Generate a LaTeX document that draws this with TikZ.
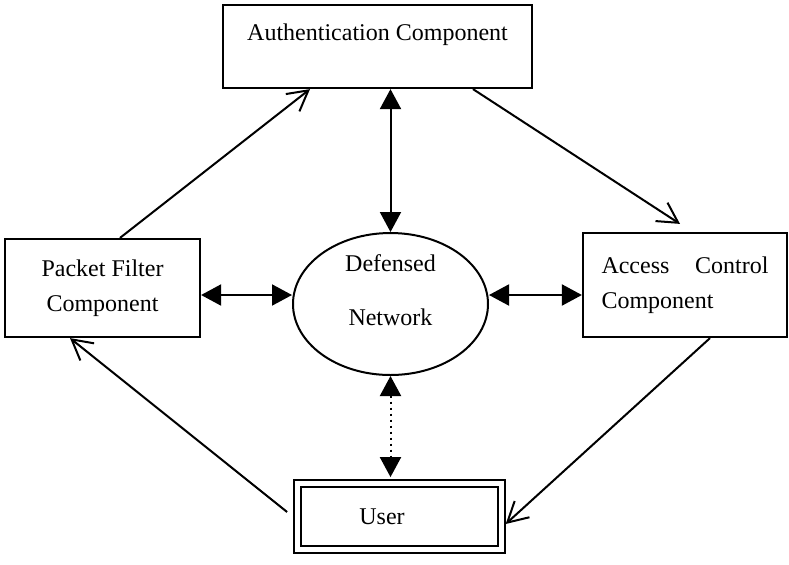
\documentclass[tikz,border=0pt]{standalone}
\usepackage{fontspec}
\setmainfont{Liberation Serif}
\usetikzlibrary{arrows.meta, positioning, shapes.geometric}

\begin{document}
\begin{tikzpicture}[x=0.5pt, y=-0.5pt,
  comp/.style={draw, line width=1.1pt, inner sep=0pt, font=\fontsize{12}{17.5}\selectfont},
  net/.style={ellipse, draw, line width=1pt, inner sep=0pt, minimum width=97.5pt, minimum height=71pt, align=center, font=\fontsize{12}{17.5}\selectfont},
  userbox/.style={draw, double, line width=0.9pt, double distance=2.6pt, inner sep=0pt, font=\fontsize{12}{17.5}\selectfont},
  link/.style={>={Triangle[length=10pt, width=10.5pt]}, <->, line width=1pt},
  flow/.style={-{Straight Barb[length=10pt, width=11pt]}, line width=1pt}]
  \useasboundingbox (0,0) rectangle (789,564);
  % components
  \node[comp, minimum width=154.5pt, minimum height=41.5pt, text height=17.5pt, text depth=24pt] (auth) at (377.5,46.5) {Authentication Component};
  \node[comp, minimum width=97.5pt, minimum height=49pt, align=center] (pf) at (102.5,288) {Packet Filter\\Component};
  \node[comp, minimum width=102pt, minimum height=52pt, text width=83.5pt, align=left] (acc) at (685,285) {Access\hfill Control\\Component};
  \node[net] (def) at (390.5,304) {Defensed\\[9.5pt]Network\rule[-13.5pt]{0pt}{0pt}};
  \node[userbox, minimum width=102pt, minimum height=33pt] (usr) at (399.5,516.5) {User\hspace{17.5pt}\mbox{}};
  % links to the defensed network
  \draw[link] (auth.south -| def.north) -- (def.north);
  \draw[link] ([yshift=-3.5pt]pf.east) -- ([yshift=4.5pt]def.west);
  \draw[link] ([yshift=4.5pt]def.east) -- ([yshift=-5pt]acc.west);
  \draw[link, dotted, shorten >=2.75pt] (def.south) -- (def.south |- usr.north);
  % outer cycle
  \draw[flow] ([xshift=8.75pt]pf.north) -- ([xshift=-33.75pt]auth.south);
  \draw[flow] ([xshift=47.75pt]auth.south) -- ([xshift=-2.5pt, yshift=4pt]acc.north);
  \draw[flow, shorten >=2.25pt] ([xshift=12.5pt]acc.south) -- ([yshift=-5.25pt]usr.east);
  \draw[flow] ([xshift=-4.75pt, yshift=2.25pt]usr.west) -- ([xshift=-16.25pt]pf.south);
\end{tikzpicture}
\end{document}
